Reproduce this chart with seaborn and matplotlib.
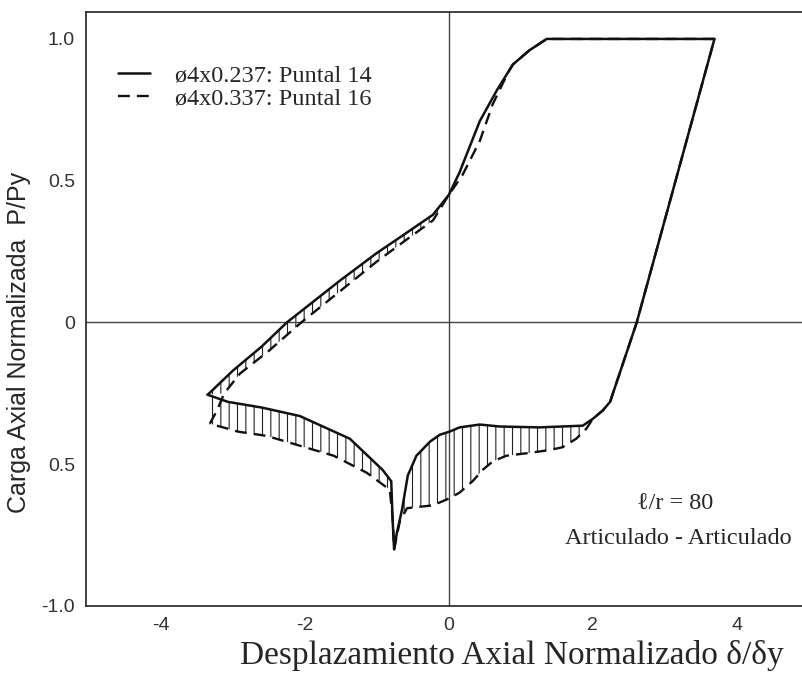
import numpy as np
import pandas as pd
import matplotlib
matplotlib.use("Agg")
import matplotlib.pyplot as plt
import seaborn as sns

# ---------------- data ----------------
# Puntal 14 (solid): tension reload from left tip -> plateau -> unload -> compression back to left tip
p14_x = [-3.35, -3.0, -2.6, -2.25, -1.5, -1.0, -0.68, -0.22, 0.0, 0.15, 0.43, 0.67, 0.89, 1.12, 1.36,
         3.69, 2.61, 2.24, 2.14, 2.0, 1.86, 1.26, 0.71, 0.43, 0.15, 0.01, -0.125, -0.26, -0.45, -0.57,
         -0.65, -0.72, -0.76, -0.78, -0.80, -0.92, -1.375, -2.07, -2.6, -3.07, -3.35]
p14_y = [-0.255, -0.17, -0.085, 0.0, 0.15, 0.245, 0.30, 0.38, 0.45, 0.53, 0.71, 0.82, 0.91, 0.96, 1.0,
         1.0, 0.0, -0.28, -0.31, -0.34, -0.364, -0.37, -0.367, -0.36, -0.37, -0.385, -0.396, -0.42, -0.47, -0.54,
         -0.66, -0.74, -0.80, -0.70, -0.56, -0.52, -0.41, -0.33, -0.30, -0.28, -0.255]

# Puntal 16 (dashed)
p16_x = [-3.32, -3.22, -3.12, -2.9, -2.5, -2.05, -1.0, -0.68, -0.22, 0.0, 0.19, 0.43, 0.61, 0.82, 0.89,
         1.12, 1.36, 3.69, 2.61, 2.24, 2.14, 2.0, 1.91, 1.77, 1.58, 1.4, 1.12, 0.8, 0.61, 0.47, 0.33,
         0.15, 0.01, -0.22, -0.58, -0.68, -0.76, -0.78, -0.82, -1.14, -1.6, -2.53, -2.93, -3.08, -3.32]
p16_y = [-0.357, -0.31, -0.25, -0.18, -0.10, 0.0, 0.215, 0.275, 0.36, 0.45, 0.52, 0.64, 0.77, 0.88, 0.91,
         0.96, 1.0, 1.0, 0.0, -0.28, -0.31, -0.34, -0.375, -0.41, -0.44, -0.45, -0.46, -0.47, -0.49, -0.52, -0.56,
         -0.60, -0.62, -0.645, -0.655, -0.70, -0.80, -0.69, -0.59, -0.53, -0.47, -0.40, -0.385, -0.374, -0.357]

x_ticks = [-4, -2, 0, 2, 4]
x_tick_labels = ["-4", "-2", "0", "2", "4"]
y_ticks = [-1.0, -0.5, 0.0, 0.5, 1.0]
y_tick_labels = ["-1.0", "0.5", "0", "0.5", "1.0"]

label14 = "ø4x0.237: Puntal 14"
label16 = "ø4x0.337: Puntal 16"
x_label = "Desplazamiento Axial Normalizado δ/δy"
y_label = "Carga Axial Normalizada  P/Py"
note1 = "ℓ/r = 80"
note2 = "Articulado - Articulado"

# ---------------- plot ----------------
sns.set_theme(style="white")
plt.rcParams["font.family"] = ["Liberation Sans", "DejaVu Sans"]
plt.rcParams["hatch.linewidth"] = 0.8
serif = ["Liberation Serif", "DejaVu Serif"]

fig = plt.figure(figsize=(8.03, 6.77), dpi=100)
ax = fig.add_axes([86 / 803, 1 - 606 / 677, 717 / 803, 594 / 677])

df14 = pd.DataFrame({"x": p14_x, "y": p14_y})
df16 = pd.DataFrame({"x": p16_x, "y": p16_y})

# hatched regions between the two curves
bx = np.concatenate([df14.x.values[0:9], df16.x.values[2:10][::-1]])
by = np.concatenate([df14.y.values[0:9], df16.y.values[2:10][::-1]])
ax.fill(bx, by, facecolor="none", edgecolor="#222222", linewidth=0, hatch="||")
cx = np.concatenate([df14.x.values[20:], df16.x.values[22:][::-1]])
cy = np.concatenate([df14.y.values[20:], df16.y.values[22:][::-1]])
ax.fill(cx, cy, facecolor="none", edgecolor="#222222", linewidth=0, hatch="||")

# reference axes lines
ax.axhline(0, color="#444444", lw=1.0, zorder=1)
ax.axvline(0, color="#444444", lw=1.0, zorder=1)

sns.lineplot(data=df16, x="x", y="y", sort=False, estimator=None, ax=ax,
             color="#111111", lw=1.7, linestyle=(0, (5, 3)), label=label16)
sns.lineplot(data=df14, x="x", y="y", sort=False, estimator=None, ax=ax,
             color="#111111", lw=1.8, label=label14)

ax.set_xlim(-5.04, 4.92)
ax.set_ylim(-1.0, 1.095)
ax.set_xticks(x_ticks)
ax.set_xticklabels(x_tick_labels)
ax.set_yticks(y_ticks)
ax.set_yticklabels(y_tick_labels)
ax.tick_params(direction="in", length=4, width=1, colors="#333333", labelsize=14, pad=8)

for side in ["left", "top", "bottom"]:
    ax.spines[side].set_color("#333333")
    ax.spines[side].set_linewidth(1.3)
ax.spines["right"].set_visible(False)

ax.set_xlabel(x_label, family=serif, fontsize=24)
ax.xaxis.set_label_coords(0.594, -0.058)
ax.set_ylabel(y_label, fontsize=18)
ax.yaxis.set_label_coords(-0.077, 0.444)

h, l = ax.get_legend_handles_labels()
order = [l.index(label14), l.index(label16)]
leg = ax.legend([h[i] for i in order], [l[i] for i in order], loc="upper left",
                bbox_to_anchor=(0.045, 0.912), frameon=False, borderpad=0, borderaxespad=0,
                handlelength=1.32, handletextpad=1.03, labelspacing=0.05,
                prop={"family": serif, "size": 17.5})

ax.text(3.14, -0.643, note1, ha="center", va="center", family=serif, fontsize=17.5)
ax.text(3.19, -0.763, note2, ha="center", va="center", family=serif, fontsize=17.5)

fig.savefig("out.png", dpi=100)
